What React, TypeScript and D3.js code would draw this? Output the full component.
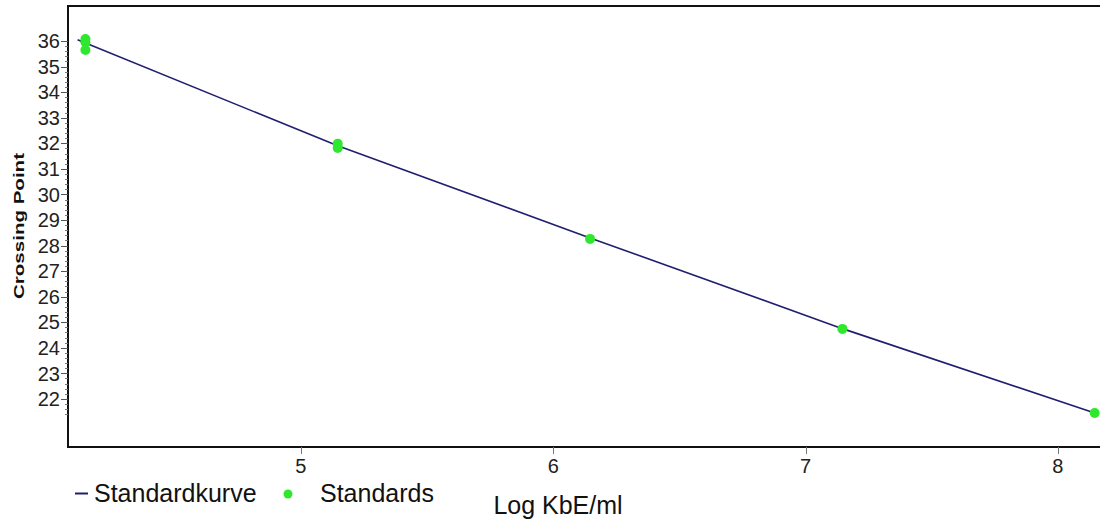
import React, { useEffect, useRef } from "react";
import * as d3 from "d3";

// standards (measured points)
const standardLogKbe = [4.146, 4.146, 4.146, 5.146, 5.146, 6.146, 7.146, 8.146];
const standardCp = [36.08, 35.95, 35.65, 31.98, 31.82, 28.26, 24.74, 21.45];

// standard curve
const curveLogKbe = [4.115, 5.146, 6.146, 7.146, 8.146];
const curveCp = [36.05, 31.9, 28.3, 24.75, 21.45];

const xTicks = [5, 6, 7, 8];
const yTicks = [22, 23, 24, 25, 26, 27, 28, 29, 30, 31, 32, 33, 34, 35, 36];

export default function App() {
  const svgRef = useRef<SVGSVGElement | null>(null);

  useEffect(() => {
    if (!svgRef.current) return;
    const svg = d3.select(svgRef.current);
    svg.selectAll("*").remove();

    const left = 68;
    const top = 6;
    const bottom = 447;
    const right = 1100;

    const x = d3.scaleLinear().domain([4.077, 8.167]).range([left, right]);
    const y = d3.scaleLinear().domain([20.12, 37.37]).range([bottom, top]);

    const font = "'Liberation Sans', Arial, sans-serif";

    svg.append("rect").attr("width", 1100).attr("height", 528).attr("fill", "#fff");

    // frame
    svg
      .append("rect")
      .attr("x", left)
      .attr("y", top)
      .attr("width", right - left + 10)
      .attr("height", bottom - top)
      .attr("fill", "none")
      .attr("stroke", "#111")
      .attr("stroke-width", 2);

    // y minor ticks
    const minor = d3.range(21.4, 36.01, 0.2);
    svg
      .append("g")
      .selectAll("line")
      .data(minor)
      .join("line")
      .attr("x1", left - 3)
      .attr("x2", left)
      .attr("y1", (d) => Math.round(y(d)) + 0.5)
      .attr("y2", (d) => Math.round(y(d)) + 0.5)
      .attr("stroke", "#777")
      .attr("stroke-width", 1);

    // y major ticks + labels
    const yg = svg.append("g");
    yg.selectAll("line")
      .data(yTicks)
      .join("line")
      .attr("x1", left - 7)
      .attr("x2", left)
      .attr("y1", (d) => Math.round(y(d)) + 0.5)
      .attr("y2", (d) => Math.round(y(d)) + 0.5)
      .attr("stroke", "#555")
      .attr("stroke-width", 1);
    yg.selectAll("text")
      .data(yTicks)
      .join("text")
      .attr("x", left - 8)
      .attr("y", (d) => y(d))
      .attr("dy", "0.36em")
      .attr("text-anchor", "end")
      .attr("font-family", font)
      .attr("font-size", 20)
      .attr("fill", "#222")
      .text((d) => d);

    // x ticks + labels
    const xg = svg.append("g");
    xg.selectAll("line")
      .data(xTicks)
      .join("line")
      .attr("x1", (d) => Math.round(x(d)) + 0.5)
      .attr("x2", (d) => Math.round(x(d)) + 0.5)
      .attr("y1", bottom)
      .attr("y2", bottom + 7)
      .attr("stroke", "#777")
      .attr("stroke-width", 1);
    xg.selectAll("text")
      .data(xTicks)
      .join("text")
      .attr("x", (d) => x(d))
      .attr("y", bottom + 26)
      .attr("text-anchor", "middle")
      .attr("font-family", font)
      .attr("font-size", 20)
      .attr("fill", "#222")
      .text((d) => d);

    // axis titles
    svg
      .append("text")
      .attr("transform", `translate(24,226) rotate(-90)`)
      .attr("text-anchor", "middle")
      .attr("font-family", font)
      .attr("font-weight", "bold")
      .attr("font-size", 14)
      .attr("textLength", 146)
      .attr("lengthAdjust", "spacingAndGlyphs")
      .attr("fill", "#111")
      .text("Crossing Point");

    svg
      .append("text")
      .attr("x", 558)
      .attr("y", 514)
      .attr("text-anchor", "middle")
      .attr("font-family", font)
      .attr("font-size", 25)
      .attr("fill", "#111")
      .text("Log KbE/ml");

    // standard curve
    const line = d3
      .line<number>()
      .x((d, i) => x(curveLogKbe[i]))
      .y((d) => y(d));
    svg
      .append("path")
      .datum(curveCp)
      .attr("fill", "none")
      .attr("stroke", "#1f1f70")
      .attr("stroke-width", 1.6)
      .attr("d", line);

    // standards
    svg
      .append("g")
      .selectAll("circle")
      .data(standardCp)
      .join("circle")
      .attr("cx", (d, i) => x(standardLogKbe[i]))
      .attr("cy", (d) => y(d))
      .attr("r", 5)
      .attr("fill", "#2ee82e");

    // legend
    const lg = svg.append("g");
    lg.append("line")
      .attr("x1", 75)
      .attr("x2", 88)
      .attr("y1", 493.5)
      .attr("y2", 493.5)
      .attr("stroke", "#1f1f70")
      .attr("stroke-width", 2);
    lg.append("text")
      .attr("x", 94)
      .attr("y", 502)
      .attr("font-family", font)
      .attr("font-size", 25)
      .attr("fill", "#111")
      .text("Standardkurve");
    lg.append("circle").attr("cx", 288).attr("cy", 494).attr("r", 4.5).attr("fill", "#2ee82e");
    lg.append("text")
      .attr("x", 320)
      .attr("y", 502)
      .attr("font-family", font)
      .attr("font-size", 25)
      .attr("fill", "#111")
      .text("Standards");
  }, []);

  return (
    <svg
      ref={svgRef}
      width={1100}
      height={528}
      style={{ position: "absolute", left: 0, top: 0 }}
    />
  );
}
